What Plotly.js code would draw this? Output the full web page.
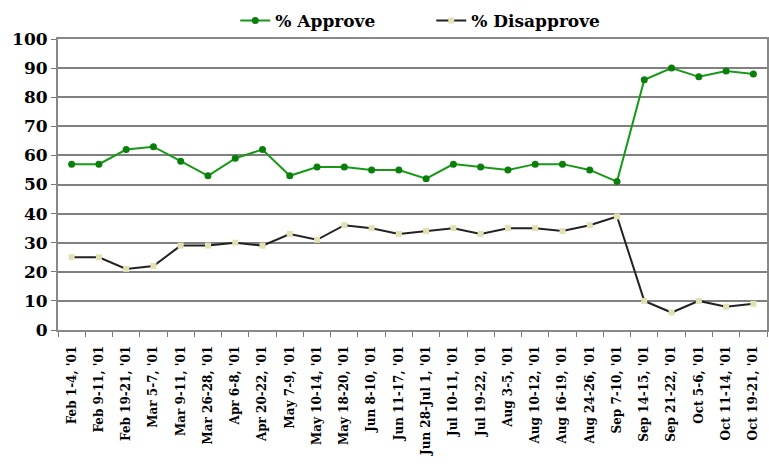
<!DOCTYPE html>
<html><head><meta charset="utf-8">
<script src="https://cdn.plot.ly/plotly-3.0.1.min.js"></script>
<style>html,body{margin:0;padding:0;background:#fff}#chart{width:769px;height:468px}</style>
</head><body><div id="chart"></div>
<script>
const categories = ["Feb 1-4, '01","Feb 9-11, '01","Feb 19-21, '01","Mar 5-7, '01","Mar 9-11, '01","Mar 26-28, '01","Apr 6-8, '01","Apr 20-22, '01","May 7-9, '01","May 10-14, '01","May 18-20, '01","Jun 8-10, '01","Jun 11-17, '01","Jun 28-Jul 1, '01","Jul 10-11, '01","Jul 19-22, '01","Aug 3-5, '01","Aug 10-12, '01","Aug 16-19, '01","Aug 24-26, '01","Sep 7-10, '01","Sep 14-15, '01","Sep 21-22, '01","Oct 5-6, '01","Oct 11-14, '01","Oct 19-21, '01"];
const approve = [57,57,62,63,58,53,59,62,53,56,56,55,55,52,57,56,55,57,57,55,51,86,90,87,89,88];
const disapprove = [25,25,21,22,29,29,30,29,33,31,36,35,33,34,35,33,35,35,34,36,39,10,6,10,8,9];
const yTicks = [0,10,20,30,40,50,60,70,80,90,100];

const font = "DejaVu Serif";
const traces = [
  {x: categories, y: approve, name: '% Approve', type: 'scatter', mode: 'lines+markers',
   line: {color: '#169a16', width: 2}, marker: {symbol: 'circle', size: 7, color: '#0a7f0a'}},
  {x: categories, y: disapprove, name: '% Disapprove', type: 'scatter', mode: 'lines+markers',
   line: {color: '#222222', width: 2}, marker: {symbol: 'square', size: 6, color: '#e3e0b4'}}
];
const layout = {
  width: 769, height: 468,
  margin: {l: 58, r: 2, t: 39, b: 138},
  paper_bgcolor: '#fff', plot_bgcolor: '#fff',
  font: {family: font, color: '#000'},
  showlegend: true,
  legend: {orientation: 'h', x: 0.25, xanchor: 'left', y: 1.0, yanchor: 'bottom',
           font: {family: font, size: 17, color: '#000', weight: 'bold'}, traceorder: 'normal',
           itemwidth: 30, entrywidth: 151, entrywidthmode: 'pixels', bgcolor: 'rgba(0,0,0,0)'},
  xaxis: {type: 'category', tickangle: -90, tickson: 'boundaries', ticks: 'outside', ticklen: 5,
          tickcolor: '#777', showgrid: false, showline: true, linecolor: '#888', linewidth: 2, mirror: true,
          ticklabelstandoff: 9,
          tickfont: {family: font, size: 12, color: '#000', weight: 'bold'}, range: [-0.5, 25.5]},
  yaxis: {range: [0, 100], tickvals: yTicks, ticks: 'outside', ticklen: 5, tickcolor: '#777',
          showgrid: true, gridcolor: '#808080', gridwidth: 2, showline: true, linecolor: '#888', linewidth: 2,
          mirror: true, zeroline: false,
          tickfont: {family: font, size: 17, color: '#000', weight: 'bold'}}
};
Plotly.newPlot('chart', traces, layout, {displayModeBar: false});
</script></body></html>
